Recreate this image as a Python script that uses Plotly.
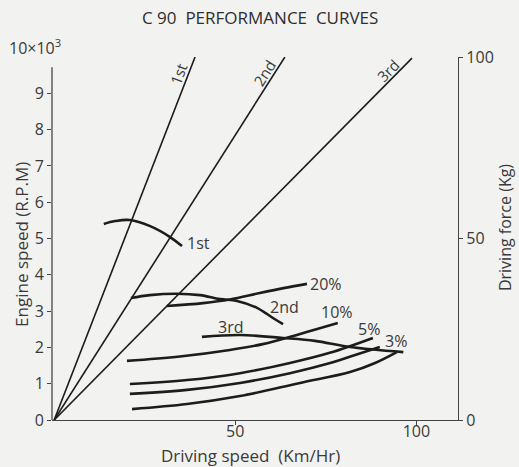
import math
import plotly.graph_objects as go

# ---- Data ----
# Gear lines: engine speed (x10^3 rpm) vs driving speed (km/h), from origin
gear_names = ["1st", "2nd", "3rd"]
gear_speed_top = [38.9, 63.7, 98.8]
gear_rpm_top = [10.0, 10.0, 9.97]

# Driving force curves (kg) vs driving speed (km/h)
f1_speed = [13.7, 16.8, 20.9, 26.5, 32.0, 35.3]
f1_force = [54.0, 54.8, 55.1, 53.4, 50.4, 47.9]
f2_speed = [21.2, 26.4, 33.9, 40.3, 45.8, 50.5, 56.0, 60.4, 63.2]
f2_force = [33.6, 34.4, 34.8, 34.4, 33.3, 32.8, 30.9, 28.1, 26.4]
f3_speed = [40.8, 51.3, 63.2, 72.0, 81.7, 96.4]
f3_force = [22.9, 23.4, 22.6, 21.8, 20.1, 18.7]

# Running resistance curves by grade (kg)
g20_speed = [31.1, 41.1, 48.5, 56.8, 63.7, 69.8]
g20_force = [31.4, 32.2, 33.2, 35.0, 36.4, 37.5]
g10_speed = [20.1, 34.7, 48.5, 57.6, 67.9, 78.3]
g10_force = [16.3, 17.5, 19.3, 20.9, 23.7, 26.7]
g5_speed = [20.9, 36.7, 51.3, 65.1, 76.1, 88.0]
g5_force = [9.9, 11.0, 12.9, 15.7, 18.5, 22.6]
g3_speed = [20.9, 36.7, 51.3, 65.1, 76.2, 83.1, 89.9]
g3_force = [7.2, 8.3, 10.2, 12.9, 15.7, 17.9, 20.1]
g0_speed = [21.5, 36.7, 51.3, 67.9, 81.7, 88.6, 94.6]
g0_force = [3.0, 4.4, 6.6, 10.2, 13.2, 15.7, 18.7]

# Curve labels: (text, speed, force, anchor)
force_labels = [("1st", 36.0, 48.8, "left"), ("2nd", 63.7, 31.1, "center"),
                ("3rd", 48.6, 25.6, "center"), ("20%", 75.0, 37.6, "center"),
                ("10%", 78.1, 29.8, "center"), ("5%", 87.0, 25.0, "center"),
                ("3%", 94.3, 21.7, "center")]
gear_label_pos = [(34.3, 9.53), (58.0, 9.56), (92.3, 9.64)]

x_ticks = [50, 100]
rpm_ticks = [0, 1, 2, 3, 4, 5, 6, 7, 8, 9]
kg_ticks = [0, 50, 100]

INK = "#1c1c1c"
TXT = "#3a3a3a"
BG = "#f2f2f0"
FONT = "Open Sans"

fig = go.Figure()

for name, sp, rp in zip(gear_names, gear_speed_top, gear_rpm_top):
    fig.add_trace(go.Scatter(x=[0, sp], y=[0, rp], mode="lines",
                             line=dict(color=INK, width=1.6),
                             yaxis="y", showlegend=False, hoverinfo="skip"))

curves = [(f1_speed, f1_force), (f2_speed, f2_force), (f3_speed, f3_force),
          (g20_speed, g20_force), (g10_speed, g10_force), (g5_speed, g5_force),
          (g3_speed, g3_force), (g0_speed, g0_force)]
for xs, ys in curves:
    fig.add_trace(go.Scatter(x=xs, y=ys, mode="lines",
                             line=dict(color=INK, width=2.6, shape="spline", smoothing=1.0),
                             yaxis="y2", showlegend=False, hoverinfo="skip"))

ann = []
for (txt, sx, fy, anc) in force_labels:
    ann.append(dict(text=txt, x=sx, y=fy, xref="x", yref="y2", showarrow=False,
                    xanchor=anc, yanchor="middle", font=dict(size=16, color=TXT, family=FONT)))
angles = []
for sp, rp in zip(gear_speed_top, gear_rpm_top):
    dx = sp * 406 / 112.1
    dy = rp * 36.3
    angles.append(-math.degrees(math.atan2(dy, dx)))
for name, (sx, ry), ang in zip(gear_names, gear_label_pos, angles):
    ann.append(dict(text=name, x=sx, y=ry, xref="x", yref="y", showarrow=False,
                    textangle=ang, xanchor="center", yanchor="middle",
                    font=dict(size=15, color=TXT, family=FONT)))

ann += [
    dict(text="C 90  PERFORMANCE  CURVES", x=0.512, y=1.110, xref="paper", yref="paper",
         xanchor="center", yanchor="middle",
         showarrow=False, font=dict(size=17, color="#2e2e2e", family=FONT)),
    dict(text="10×10<sup>3</sup>", x=-0.042, y=1.027, xref="paper", yref="paper",
         xanchor="center", yanchor="middle",
         showarrow=False, font=dict(size=16, color=TXT, family=FONT)),
    dict(text="Engine speed (R.P.M)", x=-0.074, y=0.485, xref="paper", yref="paper",
         xanchor="center", yanchor="middle",
         textangle=-90, showarrow=False, font=dict(size=17, color=TXT, family=FONT)),
    dict(text="Driving force (Kg)", x=1.116, y=0.529, xref="paper", yref="paper",
         xanchor="center", yanchor="middle",
         textangle=-90, showarrow=False, font=dict(size=16, color=TXT, family=FONT)),
    dict(text="Driving speed  (Km/Hr)", x=0.488, y=-0.097, xref="paper", yref="paper",
         xanchor="center", yanchor="middle",
         showarrow=False, font=dict(size=17, color=TXT, family=FONT)),
]

fig.update_layout(
    width=519, height=467,
    margin=dict(l=52, r=61, t=57, b=47),
    paper_bgcolor=BG, plot_bgcolor=BG,
    font=dict(family=FONT, color=TXT, size=15),
    xaxis=dict(range=[-0.6, 111.5], tickvals=x_ticks, showgrid=False, zeroline=False,
               showline=True, linecolor="#444", linewidth=1.3, ticks="outside",
               ticklen=4, tickcolor="#444", tickfont=dict(size=16, color=TXT),
               ticklabelstandoff=-7),
    yaxis=dict(range=[0, 10], tickvals=rpm_ticks, showgrid=False, zeroline=False,
               showline=False, ticks="outside", ticklen=4, tickcolor="#444",
               tickfont=dict(size=16, color=TXT)),
    yaxis2=dict(range=[0, 100], tickvals=kg_ticks, overlaying="y", side="right",
                showgrid=False, zeroline=False, showline=True, linecolor="#444",
                linewidth=1.3, ticks="outside", ticklen=4, tickcolor="#444",
                tickfont=dict(size=16, color=TXT)),
    annotations=ann,
    shapes=[dict(type="line", xref="paper", yref="y", x0=0, x1=0, y0=0, y1=9.72,
                 line=dict(color="#444", width=1.3))],
)

fig.write_html(
    "out.html",
    config={"displayModeBar": False},
    post_script="document.body.style.margin='0px';document.body.style.padding='0px';"
                "document.body.style.background='" + BG + "';document.body.style.overflow='hidden';",
)
